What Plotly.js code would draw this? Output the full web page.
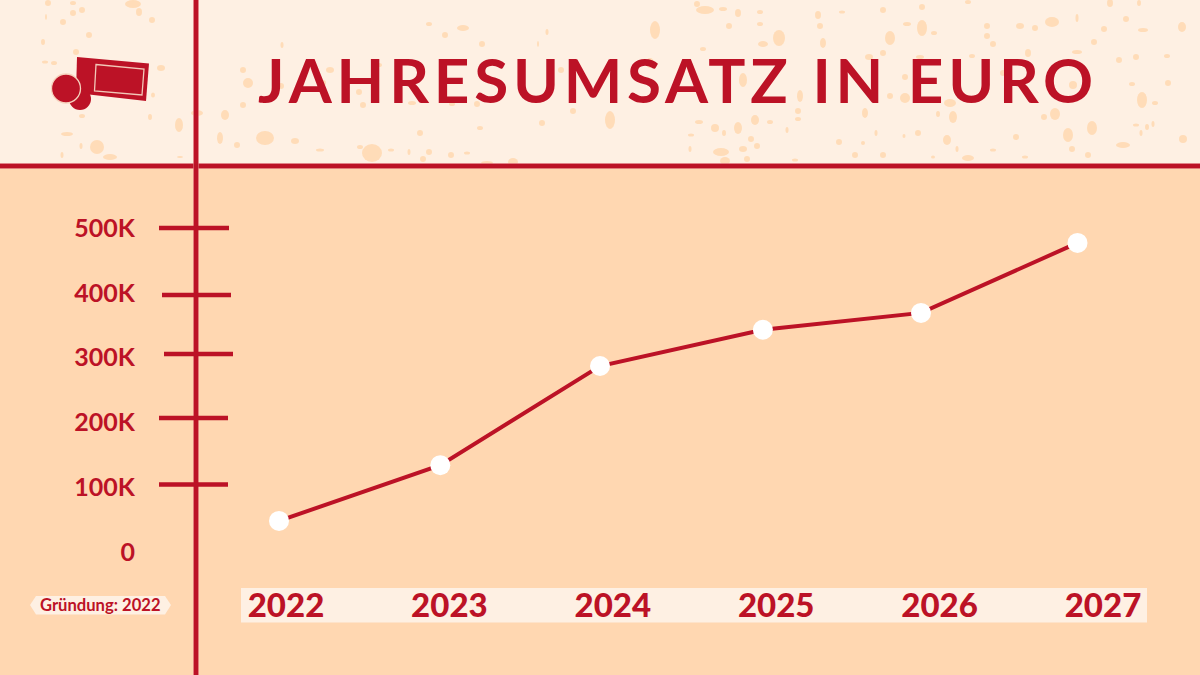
<!DOCTYPE html>
<html lang="de">
<head>
<meta charset="utf-8">
<title>Jahresumsatz in Euro</title>
<script src="https://cdn.plot.ly/plotly-3.0.1.min.js"></script>
<style>
html,body{margin:0;padding:0;background:#FFD7B1;}
#chart{width:1200px;height:675px;}
#chart .gtitle{letter-spacing:4.75px;}
</style>
</head>
<body>
<div id="chart"></div>
<script>
// ---- data ----
const titleText = 'JAHRESUMSATZ IN EURO';
const badgeText = 'Gründung: 2022';
const years = [2022, 2023, 2024, 2025, 2026, 2027];
const yearLabels = ['2022', '2023', '2024', '2025', '2026', '2027'];
const pointYears = [2022, 2023.01, 2024.01, 2025.03, 2026.02, 2027];
const revenue = [48000, 134000, 287000, 343000, 369000, 477000];
const revenueTicks = [0, 100000, 200000, 300000, 400000, 500000];
const revenueTickLabels = ['0', '100K', '200K', '300K', '400K', '500K'];

// ---- styles ----
const RED = '#BC1226', PALE = '#FEF0E3', PEACH = '#FFD7B1', SPECK = '#FFDCB8';
const W = 1200, H = 675, L = 136, R = 1147, T = 168, B = 583;
const fx = p => (p - L) / (R - L);
const fy = p => (B - p) / (B - T);

// axis calibration (pixel position of known values)
const labelRange = [2022 + (L - 286) / 163.4, 2022 + (R - 286) / 163.4];
const pointRange = [2022 + (L - 279) / 159.7, 2022 + (R - 279) / 159.7];
const yRange = [(552 - B) / 0.000648, (552 - T) / 0.000648];

// hand-drawn tick strokes of the original: [left, right, top y]
const tickStrokes = [[159,229,228],[162,231,295],[164,233,354],[159,228,418],[159,228,484.5]];

// paper-texture flecks of the header: [cx, cy, rx, ry]
const flecks = [
[48,3,3,3],[73,3,3,2],[73,13,3,3],[82,10,3,3],[63,22,3,3],[46,17,1,3],[133,4,8,4],[139,12,3,4],[152,20,3,3],[89,35,3,3],
[43,42,2,3],[76,52,3,3],[45,62,3,1.5],[54,63,3,2],[161,68,4,3],[153,95,2,2.5],[82,116,3,2],[150,117,2,3],[179,125,4,7],[67,134,6,2],
[97,147,7,7],[110,157,7,3],[81,146,1.5,3],[62,155,1.5,3],[180,157,3,1],[197,113,6,3],[243,70,3,3],[248,83,5,5],[281,86,3,3],[243,105,3,3],
[225,115,4,5],[220,138,3,6],[237,145,3,3],[265,138,9,7],[295,141,4,3],[282,45,1.5,3],[429,24,3,2],[463,28,6,3],[445,35,3,3],[482,44,3,3],
[547,32,1.5,3],[330,70,4,3],[379,65,3,2],[323,83,3,3],[359,92,3,3],[363,105,3,3],[412,103,4,2],[452,104,3,2],[477,104,3,3],[561,70,3,3],
[573,111,3,3],[542,123,3,3],[480,128,3,2],[420,133,3,3],[320,150,4,1.5],[372,153,10,9],[360,147,3,2],[391,150,3,1.5],[409,152,1.5,3],[429,152,3,3],
[451,155,3,3],[467,153,3,1.5],[423,159,3,3],[487,163,6,2],[513,162,5,4],[538,44,1,3],[697,4,3,3],[705,10,9,4],[723,9,4,2],[738,13,3,4],
[729,26,3,3],[760,12,3,2],[760,24,3,2],[779,38,6,8],[763,44,5,3],[655,30,5,9],[818,15,3,4],[820,26,3,3],[823,43,3,5],[842,12,3,1.5],
[883,10,3,3],[890,38,5,7],[883,53,3,3],[869,57,4,3],[703,49,3,2],[650,63,4,5],[743,80,4,7],[800,96,3,6],[890,96,3,3],[798,111,3,3],
[865,113,3,5],[610,120,5,9],[699,122,4,2],[715,128,4,4],[738,128,4,6],[755,120,4,5],[770,122,3,2],[724,133,2,3],[751,139,3,3],[757,146,3,3],
[721,152,8,4],[743,149,4,3],[690,149,1.5,3],[691,135,3,1.5],[839,142,3,3],[855,155,3,3],[883,155,3,3],[725,161,5,4],[747,159,3,3],[863,143,2,2],
[795,160,3,1.5],[876,133,1.5,3],[787,130,1.5,3],[798,119,3,2],[922,28,5,8],[907,24,4,2],[934,33,3,2],[922,7,3,3],[968,2,3,2],[987,26,3,3],
[987,36,3,3],[993,44,3,3],[1020,26,4,3],[1035,28,3,3],[1028,53,3,4],[1052,22,7,5],[1077,18,1.5,4],[1110,3,3,4],[1126,19,3,3],[1104,29,3,3],
[1094,42,3,3],[1143,30,5,2],[1139,3,2,3],[1182,27,4,5],[1119,60,3,3],[1136,57,3,3],[1167,56,3,2],[1168,83,3,3],[905,77,3,3],[905,98,5,5],
[1003,73,3,3],[950,103,6,4],[953,117,4,6],[938,114,2,3],[1055,114,5,6],[1044,117,3,3],[1142,100,5,8],[1155,103,3,2],[918,133,3,3],[947,140,4,5],
[1016,137,3,3],[1068,135,5,7],[1092,128,5,7],[1072,149,3,3],[1123,145,7,3],[1183,139,4,4],[1088,155,3,3],[968,158,6,3],[1025,157,3,1.5],[993,150,3,1.5],
[933,157,2,1.5],[957,149,1.5,3],[1147,127,2,3],[1136,125,3,1.5],[1141,133,1.5,3],[1153,124,1.5,3],[904,136,1.5,2],[920,57,4,2],[972,56,3,2],[1077,52,5,2],
[1132,84,3,2],[1073,85,4,4]
];

// ---- shape helpers ----
const paper = {xref:'paper', yref:'paper'};
const rectPx = (x0,y0,x1,y1,fill) => ({...paper,type:'rect',x0:fx(x0),x1:fx(x1),y0:fy(y0),y1:fy(y1),fillcolor:fill,line:{width:0},layer:'below'});
const linePx = (x0,y0,x1,y1,color,width) => ({...paper,type:'line',x0:fx(x0),x1:fx(x1),y0:fy(y0),y1:fy(y1),line:{color,width},layer:'below'});
const polyPx = (pts,fill,stroke,sw) => ({...paper,type:'path',
  path:'M'+pts.map(p=>fx(p[0])+','+fy(p[1])).join(' L')+' Z',
  fillcolor:fill,line:{color:stroke||fill,width:sw||0},layer:'below'});
const circlePx = (cx,cy,rx,ry,fill,stroke,sw) => ({...paper,type:'circle',x0:fx(cx-rx),x1:fx(cx+rx),y0:fy(cy+ry),y1:fy(cy-ry),fillcolor:fill,line:{color:stroke||fill,width:sw||0},layer:'below'});

const shapes = [
  rectPx(0,0,W,166,PALE),
  ...flecks.map(f=>circlePx(f[0],f[1],f[2],f[3],SPECK)),
  linePx(0,166,W,166,'#D9616A',5.5),
  linePx(0,166,W,166,RED,4),
  linePx(196,0,196,H,'#D9616A',5.5),
  linePx(196,0,196,H,RED,4),
  ...tickStrokes.map(t=>linePx(t[0],t[2],t[1],t[2],RED,4.5)),
  rectPx(241,588,1147,622.5,PALE),
  polyPx([[30,605],[36,596],[165,596],[171,605],[165,614.5],[36,614.5]],PALE),
  polyPx([[77,57],[149,63.5],[146,101],[76,93]],RED),
  polyPx([[96,64.5],[144,69],[142,95],[94.5,91]],RED,'#F2C8B8',1.3),
  circlePx(80,99,11,11,RED),
  circlePx(66,88.5,14.5,14.5,RED,'#F6D3BE',1.3)
];

const font = (size,weight) => ({family:'Lato, "Open Sans", sans-serif',size,color:RED,weight});

const traces = [
  {x:years, y:revenue, xaxis:'x', yaxis:'y', mode:'none', type:'scatter', showlegend:false, hoverinfo:'skip'},
  {x:pointYears, y:revenue, xaxis:'x2', yaxis:'y', mode:'lines+markers', type:'scatter', name:'Jahresumsatz',
   line:{color:RED,width:4}, marker:{color:'#FFFFFF',size:20,line:{width:0}}, cliponaxis:false, showlegend:false}
];

const layout = {
  width:W, height:H,
  margin:{l:L,r:W-R,t:T,b:H-B,pad:0},
  paper_bgcolor:PEACH, plot_bgcolor:'rgba(0,0,0,0)',
  showlegend:false, hovermode:false,
  title:{text:titleText, x:678/W, xanchor:'center', y:1-81/H, yanchor:'middle', yref:'container', font:font(62,700)},
  xaxis:{type:'linear', range:labelRange, tickmode:'array', tickvals:years, ticktext:yearLabels,
         tickfont:font(33,900), ticks:'', showgrid:false, zeroline:false, showline:false, fixedrange:true},
  xaxis2:{type:'linear', range:pointRange, overlaying:'x', side:'bottom', visible:false, fixedrange:true},
  yaxis:{type:'linear', range:yRange, tickmode:'array', tickvals:revenueTicks, ticktext:revenueTickLabels,
         tickfont:font(25,700), ticks:'', showgrid:false, zeroline:false, showline:false, fixedrange:true},
  shapes,
  annotations:[{...paper, x:fx(100.5), y:fy(605), text:badgeText, showarrow:false, xanchor:'center', yanchor:'middle', font:font(16.6,700)}]
};

Plotly.newPlot('chart', traces, layout, {displayModeBar:false, staticPlot:true, responsive:false});
</script>
</body>
</html>
